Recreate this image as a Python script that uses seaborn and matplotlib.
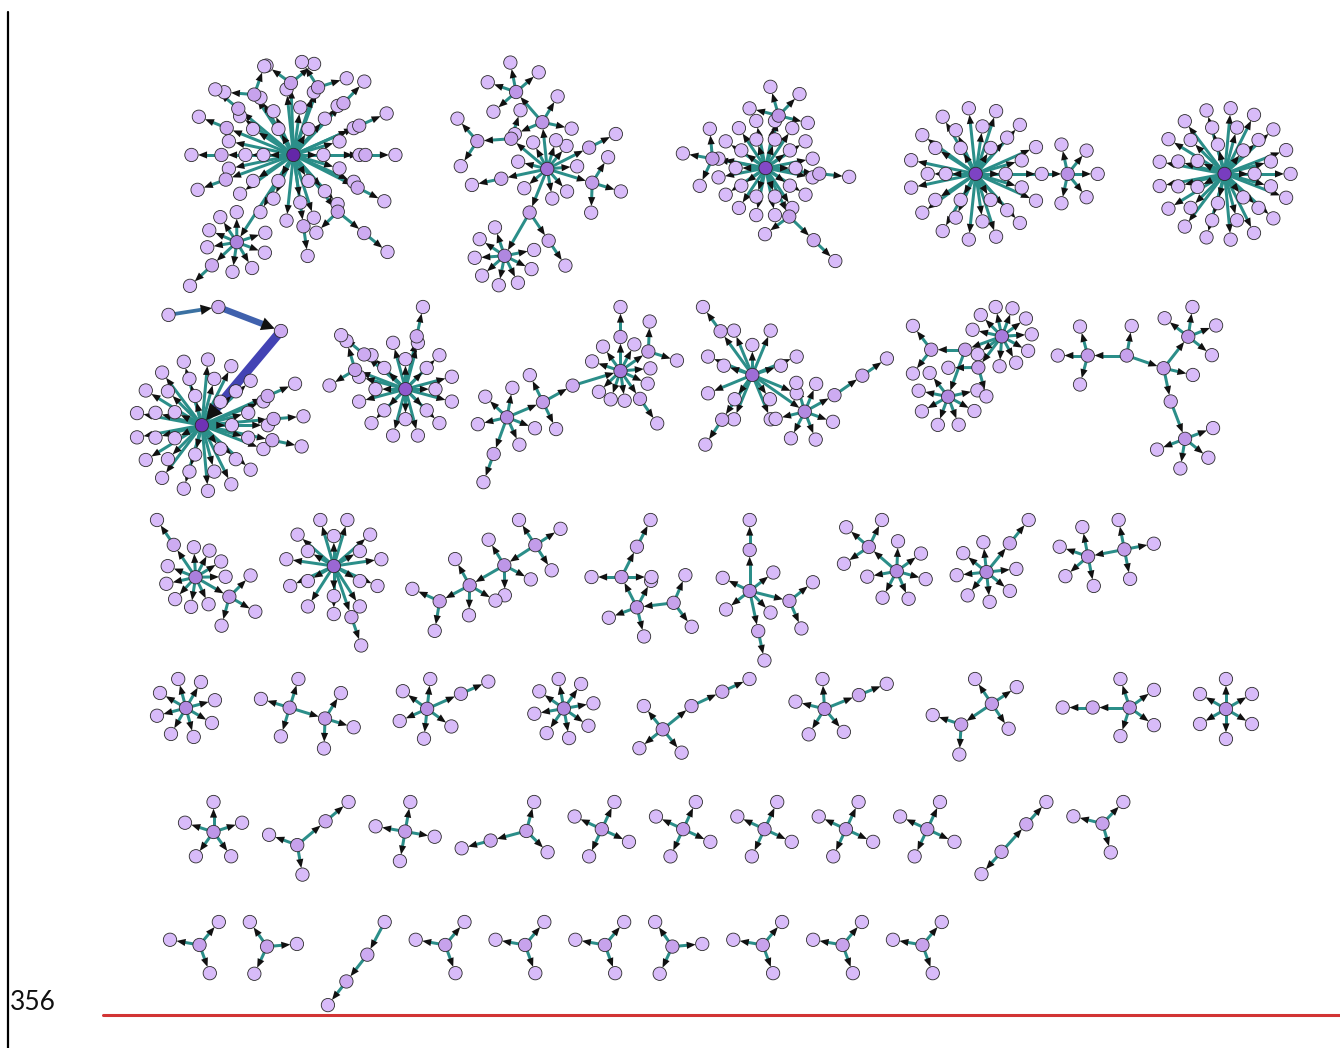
import numpy as np
import pandas as pd
import matplotlib
matplotlib.use("Agg")
import matplotlib.pyplot as plt
import matplotlib.colors as mcolors
import seaborn as sns
from matplotlib.collections import LineCollection, PolyCollection

# Graph structure. Every component is a list of fans: (parent fan, number of leaves).
# Fan 0 is the root hub; a fan with parent p hangs off the hub of fan p.
ROW1_FANS = [
    [(-1, 32), (0, 2), (0, 2), (0, 2), (0, 1), (0, 1), (0, 1), (0, 1), (0, 1),
     (0, 1), (0, 1), (0, 1), (0, 1), (12, 1), (0, 1), (0, 8), (15, 1)],
    [(-1, 8), (0, 3), (1, 4), (0, 1), (3, 2), (0, 3), (0, 1), (0, 0), (7, 8), (7, 1), (0, 1)],
    [(-1, 26), (0, 4), (0, 3), (0, 1), (0, 1), (4, 1)],
    [(-1, 32), (0, 5)],
    [(-1, 36)],
]
ROW2_FANS = [
    [(-1, 36), (0, 0), (1, 0), (2, 0), (0, 1), (0, 1), (0, 1)],
    [(-1, 20), (0, 2), (0, 1), (0, 1)],
    [(-1, 5), (0, 1), (0, 2), (2, 0), (3, 8), (4, 1), (4, 2), (4, 1)],
    [(-1, 13), (0, 1), (0, 1), (0, 6), (3, 0), (4, 1)],
    [(-1, 10), (0, 0), (1, 2), (1, 7), (0, 2)],
    [(-1, 1), (0, 3), (0, 1), (2, 4), (2, 0), (4, 4)],
]
ROW3_FANS = [
    [(-1, 9), (0, 3), (0, 1)],
    [(-1, 17), (0, 1)],
    [(-1, 3), (0, 3), (1, 3), (2, 2)],
    [(-1, 2), (0, 3), (1, 2), (2, 1)],
    [(-1, 4), (0, 1), (0, 1), (0, 2)],
    [(-1, 6), (0, 3)],
    [(-1, 7), (0, 1)],
    [(-1, 3), (0, 4)],
]
ROW4_FANS = [
    [(-1, 8)], [(-1, 3), (0, 3)], [(-1, 5), (0, 1)], [(-1, 8)], [(-1, 3), (0, 0), (1, 1)],
    [(-1, 4), (0, 1)], [(-1, 3), (0, 2)], [(-1, 4), (0, 1)], [(-1, 6)],
]
ROW5_FANS = [
    [(-1, 5)], [(-1, 2), (0, 1)], [(-1, 4)], [(-1, 2), (0, 1)], [(-1, 4)], [(-1, 4)],
    [(-1, 4)], [(-1, 4)], [(-1, 4)], [(-1, 1), (0, 1)], [(-1, 3)],
]
ROW6_FANS = [
    [(-1, 3)], [(-1, 3)], [(-1, 0), (0, 0), (1, 1)], [(-1, 3)], [(-1, 3)], [(-1, 3)],
    [(-1, 3)], [(-1, 3)], [(-1, 3)], [(-1, 3)],
]

# layout hints: first value turns the root's leaves, the rest give each branch's heading (deg)
ROW1_TURNS = [
    [0, 92, 70, 123, 46, 24, 140, 158, 180, 200, 0, 333, 308, 321, 278, 237, 223],
    [20, 96, 131, 140, 184, 343, 27, 248, 240, 304, 192],
    [0, 76, 170, 354, 296, 316],
    [0, 0],
    [0],
]
ROW2_TURNS = [
    [0, 50, 159, 189, 24, 5, 348],
    [0, 159, 140, 78],
    [100, 250, 23, 29, 17, 90, 35, 305],
    [90, 126, 236, 325, 29, 35],
    [0, 200, 180, 250, 233],
    [90, 180, 341, 52, 282, 291],
]
ROW3_TURNS = [
    [0, 330, 124], [90, 289], [90, 213, 210, 208], [40, 187, 117, 63],
    [0, 90, 282, 346], [0, 139], [0, 51], [0, 191],
]
ROW4_TURNS = [[105], [0, 343], [0, 24], [100], [0, 39, 25], [0, 22], [0, 214], [0, 180], [90]]
ROW5_TURNS = [[90], [0, 40], [80], [0, 195], [65], [65], [65], [65], [65], [0, 48], [166]]
ROW6_TURNS = [[170], [125], [0, 242, 232], [170], [170], [170], [125], [170], [170], [170]]

# weighted chain flowing into the big hub of row 2 (fans 1..3 of that component)
FLOW_WEIGHTS = [3.4, 2.2, 1.1]
FLOW_COLORS = ["#4343b4", "#4061ad", "#3b71a2"]

PAGE_NUMBER = "356"

TEAL = "#2b8e89"
DEG_STOPS = [1, 4, 10, 20, 35, 55]
DEG_COLORS = ["#d8bbf9", "#c29ce9", "#ad84df", "#9762d2", "#7a3fc2", "#561897"]

ROWS = [(ROW1_FANS, ROW1_TURNS), (ROW2_FANS, ROW2_TURNS), (ROW3_FANS, ROW3_TURNS),
        (ROW4_FANS, ROW4_TURNS), (ROW5_FANS, ROW5_TURNS), (ROW6_FANS, ROW6_TURNS)]
ROW_LEFT = [183, 130, 150, 150, 178, 163]
ROW_TOP = [55, 300, 513, 672, 795, 915]
COMP_GAP = [48, 12, 17, 32, 13, 17]
ROW_ALIGN = ["center", "top", "top", "top", "top", "top"]
R_NODE = 6.6


def polar(origin, dist, ang):
    a = np.deg2rad(ang)
    return origin[0] + dist * np.cos(a), origin[1] - dist * np.sin(a)


def ring_sizes(n):
    caps = [int(2 * np.pi * (30 + 18 * i) / 16) for i in range(6)]
    k = 1
    while sum(caps[:k]) < n:
        k += 1
    radii = [30 + 18 * i for i in range(k)]
    if k == 1:
        return [n], radii
    c = np.array(caps[:k], float)
    share = n * c / c.sum()
    sizes = np.floor(share).astype(int)
    order = np.argsort(-(share - sizes))
    sizes[order[: n - sizes.sum()]] += 1
    return list(sizes), radii


def gap_angles(n, occupied):
    occ = sorted(a % 360 for a in occupied)
    gaps = [((occ[(j + 1) % len(occ)] - occ[j]) % 360) or 360 for j in range(len(occ))]
    share = np.array(gaps) / 360 * n
    k = np.floor(share).astype(int)
    order = np.argsort(-(share - k))
    k[order[: n - k.sum()]] += 1
    out = []
    for j, (g, kk) in enumerate(zip(gaps, k)):
        out += [occ[j] + g * (m + 1) / (kk + 1) for m in range(kk)]
    return out


def layout_component(fans, turns, flows):
    kids = [[] for _ in fans]
    for i, (p, _) in enumerate(fans):
        if p >= 0:
            kids[p].append(i)
    hub = [None] * len(fans)
    inn = [None] * len(fans)
    reach = [0.0] * len(fans)
    rings = [1] * len(fans)
    nodes, edges = [], []
    for i, (p, n) in enumerate(fans):
        if p < 0:
            hub[i] = (0.0, 0.0)
        else:
            if fans[p][0] < 0:
                base = reach[p] + 6 if rings[p] > 1 else 35 + 2 * len(kids[p])
                extra = 4 * n if (rings[p] > 2 and n >= 5) else (10 if n >= 5 else 0)
            else:
                base = 34 + (6 if n >= 3 else 0)
                extra = 10 if n >= 5 else 0
            w = flows.get(i, (0, None))[0]
            d = base + extra + 15 * w
            hub[i] = polar(hub[p], d, turns[i])
            inn[i] = turns[i]
            if i in flows:
                edges.append((hub[i], hub[p], w, flows[i][1]))
            else:
                edges.append((hub[p], hub[i], 0, TEAL))
        nodes.append((hub[i][0], hub[i][1], n + len(kids[i]) + (p >= 0)))
        occ = [turns[c] for c in kids[i]] + ([inn[i] + 180] if p >= 0 else [])
        if p < 0:
            sizes, radii = ring_sizes(n)
            rings[i] = len(sizes)
            if len(sizes) > 1 or not occ:
                pts = []
                for ri, (m, r) in enumerate(zip(sizes, radii)):
                    off = turns[0] + (180 / m if m else 0) * (ri % 2)
                    pts += [(r, off + 360 * j / m) for j in range(m)]
            else:
                pts = [(30, a) for a in gap_angles(n, occ)]
            reach[i] = radii[-1]
        else:
            if kids[i]:
                pts = [(30, a) for a in gap_angles(n, occ)]
            else:
                span = 360 - max(60, 180 - 15 * n)
                pts = [(30, inn[i] - span / 2 + span * (j + 0.5) / n) for j in range(n)]
            reach[i] = 30
        for r, a in pts:
            leaf = polar(hub[i], r, a)
            nodes.append((leaf[0], leaf[1], 1))
            edges.append((hub[i], leaf, 0, TEAL))
    return nodes, edges


def deg_color(d):
    rgb = np.array([mcolors.to_rgb(c) for c in DEG_COLORS])
    x = np.log(d)
    xs = np.log(DEG_STOPS)
    return mcolors.to_hex([np.interp(x, xs, rgb[:, k]) for k in range(3)])


all_nodes, all_edges = [], []
for r, (fans_row, turns_row) in enumerate(ROWS):
    laid = []
    for c, (fans, turns) in enumerate(zip(fans_row, turns_row)):
        flows = {}
        if r == 1 and c == 0:
            flows = {k + 1: (w, col) for k, (w, col) in enumerate(zip(FLOW_WEIGHTS, FLOW_COLORS))}
        nodes, edges = layout_component(fans, turns, flows)
        xy = np.array([(x, y) for x, y, _ in nodes])
        box = (xy[:, 0].min() - 7, xy[:, 0].max() + 7, xy[:, 1].min() - 7, xy[:, 1].max() + 7)
        laid.append((nodes, edges, box))
    height = max(b[3] - b[2] for _, _, b in laid)
    x = ROW_LEFT[r]
    for nodes, edges, box in laid:
        dx = x - box[0]
        if ROW_ALIGN[r] == "center":
            dy = ROW_TOP[r] + height / 2 - (box[2] + box[3]) / 2
        else:
            dy = ROW_TOP[r] - box[2]
        all_nodes += [(nx + dx, ny + dy, d) for nx, ny, d in nodes]
        all_edges += [((a[0] + dx, a[1] + dy), (b[0] + dx, b[1] + dy), w, col)
                      for a, b, w, col in edges]
        x += box[1] - box[0] + COMP_GAP[r]

df = pd.DataFrame(all_nodes, columns=["x", "y", "deg"]).sort_values("deg", kind="stable")
palette = {d: deg_color(d) for d in df["deg"].unique()}

sns.set_style("white")
plt.rcParams["font.family"] = ["Lato", "DejaVu Sans"]

fig = plt.figure(figsize=(13.4, 10.48), dpi=100)
ax = fig.add_axes([0, 0, 1, 1])

lines, widths, colors, heads = [], [], [], []
for a, b, w, col in all_edges:
    a = np.array(a)
    b = np.array(b)
    v = b - a
    u = v / np.hypot(*v)
    perp = np.array([-u[1], u[0]])
    hl = 9 + 2 * w
    hw = 3.6 + 1.4 * w
    tip = b - u * R_NODE
    base = tip - u * hl
    lines.append([a, tip - u * hl * 0.6])
    heads.append([tip, base + perp * hw, base - perp * hw])
    widths.append((3.0 if w == 0 else 1.2 + 2.3 * w) * 0.72)
    colors.append(col)

ax.add_collection(LineCollection(lines, colors=colors, linewidths=widths, capstyle="butt", zorder=1))
ax.add_collection(PolyCollection(heads, facecolors="#111111", edgecolors="none", zorder=2))

sns.scatterplot(data=df, x="x", y="y", hue="deg", palette=palette, s=92,
                edgecolor="#2a2a2a", linewidth=0.6, legend=False, ax=ax, zorder=3)

# page furniture around the figure
ax.plot([8, 8], [12, 1048], color="black", lw=1.6, zorder=0)
ax.plot([103, 1340], [1015, 1015], color="#d23434", lw=2.2, zorder=0)
ax.text(10, 1002, PAGE_NUMBER, fontsize=19, ha="left", va="center", color="#111111")

ax.set_xlim(0, 1340)
ax.set_ylim(1048, 0)
ax.axis("off")
fig.savefig("out.png", dpi=100)
